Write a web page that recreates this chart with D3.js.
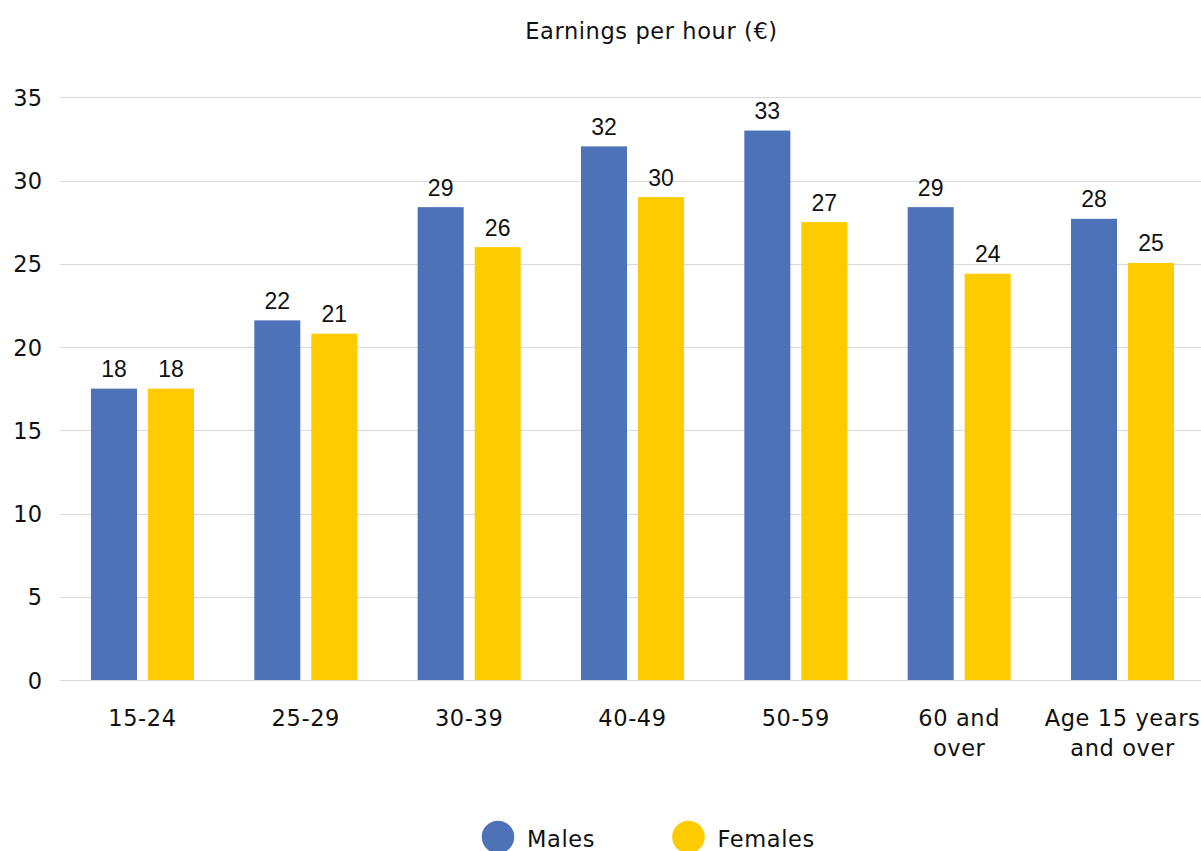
<!DOCTYPE html>
<html>
<head>
<meta charset="utf-8">
<script src="https://cdn.jsdelivr.net/npm/d3@7"></script>
<style>
  html, body { margin: 0; padding: 0; background: #ffffff; overflow: hidden; }
  svg { display: block; }
  .lbl { font-family: "DejaVu Sans", sans-serif; fill: #111111; letter-spacing: 0.6px; }
  .val { font-family: "Liberation Sans", Arial, sans-serif; fill: #111111; }
</style>
</head>
<body>
<svg id="chart" width="1201" height="851"></svg>
<script>
// ---- data ----
const categories = [["15-24"], ["25-29"], ["30-39"], ["40-49"], ["50-59"], ["60 and", "over"], ["Age 15 years", "and over"]];
const males   = [17.5, 21.6, 28.4, 32.05, 33.0, 28.4, 27.7];
const females = [17.5, 20.8, 26.0, 29.0, 27.5, 24.4, 25.05];
const maleLabels   = ["18", "22", "29", "32", "33", "29", "28"];
const femaleLabels = ["18", "21", "26", "30", "27", "24", "25"];
const seriesNames = ["Males", "Females"];
const seriesColors = ["#4e72b8", "#fecb00"];
const yTicks = [0, 5, 10, 15, 20, 25, 30, 35];
const title = "Earnings per hour (€)";

// ---- layout ----
const FS = 22.5;
const svg = d3.select("#chart");
const catKeys = categories.map(c => c.join(" "));
const x = d3.scaleBand().domain(catKeys).range([60.8, 1204.2]).paddingInner(0).paddingOuter(0);
const xs = d3.scaleBand().domain(seriesNames).range([0, x.bandwidth()])
  .paddingInner(11 / 57).paddingOuter(0.529);
const y = d3.scaleLinear().domain([0, 35]).range([680, 97.25]);

// gridlines
const grid = svg.append("g");
grid.selectAll("line").data(yTicks).join("line")
  .attr("x1", 60).attr("x2", 1201)
  .attr("y1", d => Math.round(y(d)) + 0.5).attr("y2", d => Math.round(y(d)) + 0.5)
  .attr("stroke", "#d9d9d9").attr("stroke-width", 1.2);

// y axis labels
const yAxis = d3.axisLeft(y).tickValues(yTicks).tickSize(0).tickPadding(0);
const yg = svg.append("g").attr("transform", "translate(42,0)").call(yAxis);
yg.select(".domain").remove();
yg.selectAll("text").attr("class", "lbl").attr("font-size", FS).attr("dy", "0.36em")
  .attr("fill", "#111111").style("letter-spacing", "0px");

// bars
const rows = catKeys.map((k, i) => ({ key: k, vals: [
  { s: "Males", v: males[i], l: maleLabels[i] },
  { s: "Females", v: females[i], l: femaleLabels[i] }
]}));
const groups = svg.append("g").selectAll("g").data(rows).join("g")
  .attr("transform", d => `translate(${x(d.key)},0)`);
groups.selectAll("rect").data(d => d.vals).join("rect")
  .attr("x", d => xs(d.s)).attr("width", xs.bandwidth())
  .attr("y", d => y(d.v)).attr("height", d => y(0) - y(d.v))
  .attr("fill", d => seriesColors[seriesNames.indexOf(d.s)]);
groups.selectAll("text.val").data(d => d.vals).join("text")
  .attr("class", "val")
  .attr("x", d => xs(d.s) + xs.bandwidth() / 2)
  .attr("y", d => y(d.v) - 11.5)
  .attr("text-anchor", "middle").attr("font-size", 23)
  .text(d => d.l);

// x axis labels
const xg = svg.append("g");
categories.forEach((lines, i) => {
  const cx = x(catKeys[i]) + x.bandwidth() / 2;
  const t = xg.append("text").attr("class", "lbl")
    .attr("x", cx).attr("y", 726).attr("text-anchor", "middle").attr("font-size", FS);
  lines.forEach((ln, j) => {
    t.append("tspan").attr("x", cx).attr("dy", j === 0 ? 0 : 30).text(ln);
  });
});

// title
svg.append("text").attr("class", "lbl").attr("x", 651.5).attr("y", 39)
  .attr("text-anchor", "middle").attr("font-size", FS).text(title);

// legend
const legendX = [498, 688.5];
const lg = svg.append("g").selectAll("g").data(seriesNames).join("g")
  .attr("transform", (d, i) => `translate(${legendX[i]},837)`);
lg.append("circle").attr("r", 16.3).attr("fill", (d, i) => seriesColors[i]);
lg.append("text").attr("class", "lbl").attr("x", 29).attr("y", 9.5)
  .attr("font-size", FS).text(d => d);
</script>
</body>
</html>
